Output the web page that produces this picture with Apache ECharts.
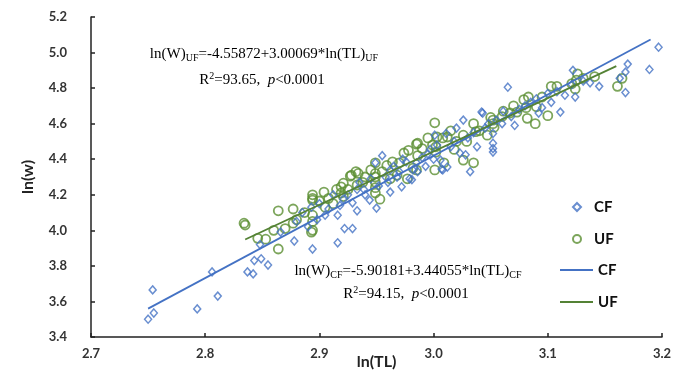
<!DOCTYPE html>
<html><head><meta charset="utf-8">
<script src="https://cdn.jsdelivr.net/npm/echarts@6/dist/echarts.min.js"></script>
<style>html,body{margin:0;padding:0;background:#fff}#c{width:691px;height:373px}</style>
</head><body><div id="c"></div>
<script>
// ---- data ----
var cfX = [2.750,2.755,2.754,2.793,2.811,2.806,2.837,2.842,2.843,2.849,2.855,2.848,2.878,2.866,2.894,2.916,2.922,2.929,2.916,2.893,2.921,2.933,2.905,2.929,2.933,2.944,2.950,2.939,2.955,2.949,2.962,2.972,2.981,2.962,2.968,2.976,2.982,2.986,3.001,3.003,3.008,3.006,3.012,2.973,2.979,3.011,3.026,3.043,3.061,3.065,3.052,3.052,3.052,3.032,3.038,3.023,3.028,3.007,2.997,3.020,3.045,3.122,3.124,3.145,3.163,3.168,3.170,3.111,3.100,3.092,3.042,3.052,3.071,3.197,3.189,3.168,3.137,3.131,3.121,3.108,2.880,2.885,2.890,2.898,2.900,2.908,2.912,2.918,2.925,2.935,2.940,2.945,2.952,2.958,2.960,2.965,2.970,2.985,2.990,2.993,2.995,3.000,3.015,3.018,3.030,3.035,3.048,3.055,3.060,3.068,3.075,3.080,3.085,3.090,3.095,3.103,3.115];
var cfY = [3.500,3.535,3.665,3.558,3.630,3.766,3.766,3.755,3.830,3.840,3.805,3.920,3.940,3.990,3.895,3.930,4.010,4.010,4.085,4.130,4.175,4.110,4.085,4.155,4.230,4.170,4.125,4.230,4.420,4.380,4.340,4.245,4.285,4.215,4.300,4.385,4.340,4.330,4.535,4.480,4.340,4.395,4.356,4.400,4.290,4.545,4.620,4.660,4.670,4.805,4.545,4.440,4.460,4.330,4.470,4.435,4.425,4.345,4.455,4.575,4.575,4.900,4.750,4.810,4.855,4.775,4.935,4.665,4.770,4.660,4.665,4.490,4.590,5.030,4.905,4.890,4.830,4.840,4.820,4.780,4.050,4.100,4.020,4.060,4.150,4.120,4.200,4.140,4.200,4.270,4.200,4.290,4.250,4.300,4.270,4.360,4.330,4.380,4.410,4.360,4.430,4.400,4.470,4.500,4.520,4.550,4.600,4.620,4.600,4.640,4.680,4.700,4.720,4.740,4.690,4.720,4.760];
var ufX = [2.834,2.835,2.846,2.853,2.864,2.877,2.887,2.864,2.870,2.877,2.894,2.894,2.894,2.894,2.894,2.900,2.904,2.905,2.912,2.919,2.919,2.928,2.934,2.933,2.894,2.893,2.921,2.921,2.927,2.932,2.938,2.949,2.949,2.949,2.949,2.949,2.949,2.953,2.959,2.964,2.974,2.978,2.986,2.986,2.999,3.001,3.003,3.001,3.008,2.982,2.968,2.977,2.985,3.002,3.002,3.012,3.026,3.029,3.035,3.037,3.047,3.050,3.052,3.052,3.053,3.061,3.026,3.035,3.018,3.009,2.985,3.067,3.073,3.079,3.083,3.081,3.082,3.089,3.100,3.103,3.108,3.090,3.121,3.125,3.126,3.124,3.161,3.165,3.141,3.131,2.860,2.880,2.908,2.915,2.925,2.940,2.945,2.955,2.962,2.970,2.990,2.995,3.015,3.020,3.040,3.060,3.070,3.095];
var ufY = [4.040,4.030,3.955,3.950,4.110,4.120,4.100,3.895,4.010,4.040,4.000,4.050,4.200,4.180,4.170,4.165,4.215,4.130,4.150,4.245,4.210,4.310,4.320,4.255,4.085,3.990,4.265,4.190,4.305,4.330,4.270,4.380,4.320,4.300,4.270,4.240,4.210,4.175,4.365,4.385,4.435,4.450,4.490,4.420,4.480,4.605,4.525,4.340,4.520,4.350,4.310,4.290,4.485,4.470,4.440,4.525,4.535,4.500,4.600,4.555,4.535,4.635,4.620,4.600,4.580,4.670,4.395,4.380,4.455,4.380,4.340,4.660,4.665,4.735,4.750,4.690,4.630,4.600,4.645,4.810,4.810,4.695,4.825,4.845,4.880,4.795,4.810,4.855,4.865,4.855,4.000,4.060,4.180,4.230,4.230,4.300,4.340,4.330,4.290,4.380,4.460,4.520,4.560,4.500,4.560,4.640,4.700,4.750];
// fitted equations: ln(W) = a + b*ln(TL), drawn over the fitted x range
var cfFit = {a: -5.90181, b: 3.44055, from: 2.75, to: 3.19};
var ufFit = {a: -4.55872, b: 3.00069, from: 2.835, to: 3.16};
var xTicks = [2.7, 3.2, 0.1];
var yTicks = [3.4, 5.2, 0.2];

function pairs(xs, ys){ return xs.map(function(x,i){return [x, ys[i]];}); }
function fitLine(f){ return [[f.from, f.a + f.b*f.from],[f.to, f.a + f.b*f.to]]; }

var BLUE = '#4472C4', GREEN = '#5B8F32', GREENLINE = '#548235';
var chart = echarts.init(document.getElementById('c'));
var rich = {
  n: {fontFamily: 'Liberation Serif', fontSize: 15, color: '#111', lineHeight: 18},
  i: {fontFamily: 'Liberation Serif', fontSize: 15, fontStyle: 'italic', color: '#111', lineHeight: 18},
  s: {fontFamily: 'Liberation Serif', fontSize: 10, color: '#111', lineHeight: 10, verticalAlign: 'bottom'},
  p: {fontFamily: 'Liberation Serif', fontSize: 10, color: '#111', lineHeight: 10, verticalAlign: 'top'}
};
function txt(x, y, s){ return {type:'text', x: x, y: y, z: 100, style: {text: s, rich: rich, textAlign: 'center', textVerticalAlign: 'middle'}}; }
var legendText = {fontFamily: 'Lato', fontWeight: 'bold', fontSize: 15, color: '#111', lineHeight: 18};

chart.setOption({
  animation: false,
  grid: {left: 91, right: 29, top: 17, bottom: 36, outerBoundsMode: 'none', containLabel: false},
  xAxis: {
    type: 'value', min: xTicks[0], max: xTicks[1], interval: xTicks[2],
    name: 'ln(TL)', nameLocation: 'middle', nameGap: 17, nameMoveOverlap: false,
    nameTextStyle: {fontFamily: 'Lato', fontWeight: 'bold', fontSize: 16, color: '#222'},
    axisLine: {lineStyle: {color: '#222', width: 1.5}},
    axisTick: {inside: true, length: 4, lineStyle: {color: '#222', width: 1.5}},
    axisLabel: {margin: 10, fontFamily: 'Lato', fontWeight: 'bold', fontSize: 13, color: '#333', formatter: function(v){return v.toFixed(1);}},
    splitLine: {show: false}
  },
  yAxis: {
    type: 'value', min: yTicks[0], max: yTicks[1], interval: yTicks[2],
    name: 'ln(w)', nameLocation: 'middle', nameGap: 55, nameMoveOverlap: false,
    nameTextStyle: {fontFamily: 'Lato', fontWeight: 'bold', fontSize: 16, color: '#222'},
    axisLine: {show: true, lineStyle: {color: '#222', width: 1.5}},
    axisTick: {show: true, inside: true, length: 4, lineStyle: {color: '#222', width: 1.5}},
    axisLabel: {margin: 24, fontFamily: 'Lato', fontWeight: 'bold', fontSize: 13, color: '#333', formatter: function(v){return v.toFixed(1);}},
    splitLine: {show: false}
  },
  legend: [
    {data: ['CF','UF'], orient: 'vertical', left: 567, top: 193, itemGap: 14, itemWidth: 8, itemHeight: 8,
     textStyle: Object.assign({padding: [0,0,0,8]}, legendText)},
    {data: [{name: 'CF fit', icon: 'rect'}, {name: 'UF fit', icon: 'rect'}], orient: 'vertical', left: 555, top: 256,
     itemGap: 14, itemWidth: 33, itemHeight: 2,
     formatter: function(n){return n.replace(' fit','');},
     textStyle: legendText}
  ],
  series: [
    {name: 'CF', type: 'scatter', symbol: 'diamond', symbolSize: [7,8], data: pairs(cfX, cfY), z: 3,
     itemStyle: {color: 'rgba(255,255,255,0)', borderColor: BLUE, borderWidth: 1.5}},
    {name: 'UF', type: 'scatter', symbol: 'circle', symbolSize: 9, data: pairs(ufX, ufY), z: 2,
     itemStyle: {color: 'rgba(255,255,255,0)', borderColor: GREEN, borderWidth: 1.8}},
    {name: 'CF fit', type: 'line', data: fitLine(cfFit), symbol: 'none', z: 5,
     lineStyle: {color: BLUE, width: 1.8}, itemStyle: {color: BLUE}},
    {name: 'UF fit', type: 'line', data: fitLine(ufFit), symbol: 'none', z: 5,
     lineStyle: {color: GREENLINE, width: 1.8}, itemStyle: {color: GREENLINE}}
  ],
  graphic: [
    txt(264, 54, '{n|ln(W)}{s|UF}{n|=-4.55872+3.00069*ln(TL)}{s|UF}'),
    txt(262, 80, '{n|R}{p|2}{n|=93.65,  }{i|p}{n|<0.0001}'),
    txt(408, 271, '{n|ln(W)}{s|CF}{n|=-5.90181+3.44055*ln(TL)}{s|CF}'),
    txt(406, 294, '{n|R}{p|2}{n|=94.15,  }{i|p}{n|<0.0001}')
  ]
});
</script></body></html>
